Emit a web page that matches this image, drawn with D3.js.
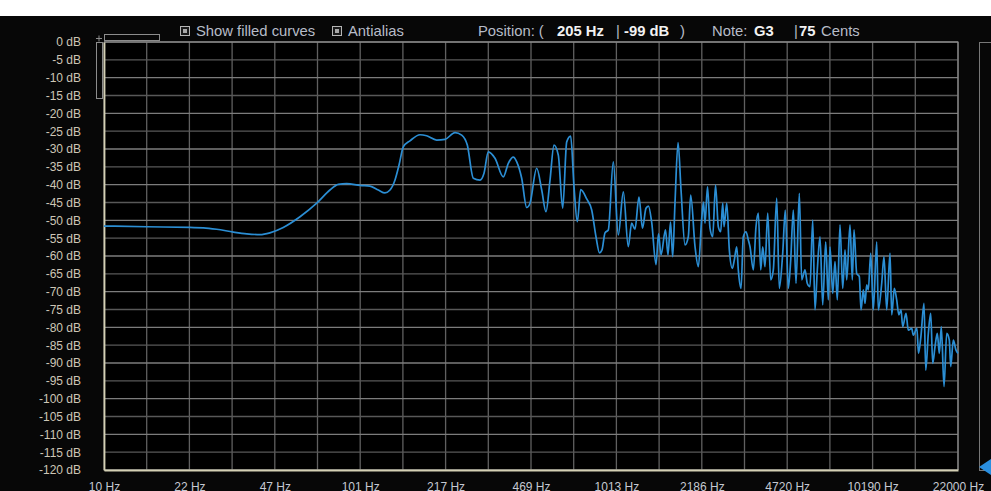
<!DOCTYPE html>
<html>
<head>
<meta charset="utf-8">
<script src="https://cdn.jsdelivr.net/npm/d3@7"></script>
<style>
  html, body { margin: 0; padding: 0; background: #ffffff; }
  svg { display: block; }
  text { font-family: "Liberation Sans", Arial, Helvetica, sans-serif; }
</style>
</head>
<body>
<svg id="chart" width="991" height="491"></svg>
<script>
// Spectrum: frequency (Hz) and level (dB)
const freqHz = [
  10, 14.7, 21.7, 24.5, 27.6, 32.1, 36.2, 40.8, 44.6, 50.3,
  58.5, 68.0, 76.6, 82.6, 89.1, 100.5, 109.9, 118.5, 125.8, 131.6,
  137.7, 142.8, 148.4, 157.6, 172.5, 183.2, 200.5, 216.1, 236.5, 251.2,
  264.2, 278.9, 296.2, 307.1, 319.2, 339.1, 365.5, 382.3, 399.9, 412.4,
  431.3, 451.2, 464.9, 493.8, 516.6, 536.9, 556.7, 577.1, 599.9, 624.2,
  647.1, 670.8, 691.1, 712.0, 734.1, 774.9, 810.6, 842.6, 869.6, 889.4,
  913.8, 941.4, 984.8, 1030, 1078, 1127, 1162, 1197, 1241, 1281,
  1322, 1352, 1392, 1447, 1480, 1514, 1576, 1612, 1649, 1682,
  1717, 1765, 1813, 1879, 1936, 1978, 2057, 2119, 2185, 2220,
  2250, 2302, 2354, 2412, 2474, 2537, 2592, 2640, 2671, 2737,
  2802, 2878, 2931, 2995, 3038, 3113, 3178, 3256, 3325, 3376,
  3478, 3563, 3638, 3718, 3785, 3864, 3960, 4068, 4165, 4294,
  4396, 4533, 4640, 4767, 4872, 4988, 5110, 5265, 5379, 5542,
  5658, 5797, 5940, 6064, 6191, 6344, 6500, 6678, 6836, 6942,
  7113, 7262, 7414, 7597, 7784, 7947, 8070, 8313, 8487, 8619,
  8831, 9040, 9180, 9372, 9516, 9663, 9804, 10018, 10256, 10575,
  10728, 11061, 11293, 11571, 11922, 12106, 12393, 12663, 12908, 13163,
  13367, 13770, 14058, 14497, 14707, 15189, 15411, 15748, 16196, 16448,
  16838, 17206, 17518, 17884, 18258, 18590, 18928, 19394, 19873, 20344,
  20601, 21090, 21609, 22000
];
const levelDb = [
  -51.6, -51.8, -52.0, -52.1, -52.5, -53.3, -53.8, -54.0, -53.5, -52.0,
  -49.0, -45.2, -41.5, -39.9, -39.7, -40.2, -40.4, -41.5, -42.3, -41.5,
  -38.7, -34.5, -29.4, -27.7, -26.0, -26.3, -27.5, -27.3, -25.4, -26.1,
  -28.9, -38.2, -38.7, -36.8, -30.8, -32.6, -37.8, -34.0, -32.3, -33.6,
  -38.2, -46.4, -45.2, -35.4, -41.5, -47.6, -38.7, -28.9, -31.7, -46.6,
  -28.0, -26.4, -40.6, -50.4, -41.4, -44.0, -47.1, -54.6, -59.1, -58.3,
  -53.5, -52.7, -33.6, -54.1, -42.0, -57.4, -50.8, -52.5, -43.5, -52.2,
  -46.6, -46.0, -50.6, -62.4, -53.8, -59.7, -52.7, -59.7, -50.5, -60.2,
  -45.1, -28.2, -41.5, -56.9, -54.6, -42.9, -57.4, -63.0, -49.4, -44.9,
  -50.8, -40.6, -52.2, -54.6, -40.1, -51.8, -53.2, -45.2, -51.8, -45.2,
  -58.3, -63.5, -61.1, -57.4, -63.9, -69.1, -54.6, -53.2, -55.5, -57.4,
  -63.9, -51.8, -48.0, -63.9, -57.4, -63.0, -48.0, -66.7, -63.9, -43.8,
  -69.1, -59.2, -47.1, -69.1, -61.1, -47.1, -67.7, -42.4, -66.7, -63.9,
  -67.7, -68.6, -49.9, -75.1, -63.9, -54.6, -73.7, -56.0, -72.3, -57.4,
  -70.5, -61.6, -72.3, -51.3, -69.1, -58.3, -66.7, -51.3, -66.7, -52.7,
  -64.9, -65.8, -75.1, -69.5, -73.3, -68.1, -69.5, -59.2, -75.1, -56.0,
  -75.1, -67.7, -60.2, -75.1, -59.2, -76.5, -69.1, -72.3, -76.5, -75.1,
  -79.8, -76.1, -80.8, -80.3, -82.2, -80.3, -87.3, -82.6, -73.3, -92.0,
  -81.7, -76.1, -90.1, -85.4, -81.7, -87.3, -79.8, -96.6, -81.7, -83.6,
  -91.0, -83.6, -86.4, -87.3
];

// Axis ticks
const dbTicks = [0, -5, -10, -15, -20, -25, -30, -35, -40, -45, -50, -55, -60,
                 -65, -70, -75, -80, -85, -90, -95, -100, -105, -110, -115, -120];
const freqTickLabels = [10, 22, 47, 101, 217, 469, 1013, 2186, 4720, 10190, 22000];

// Header readout
const headerChecks = ["Show filled curves", "Antialias"];
const cursorHz = 205, cursorDb = -99, cursorNote = "G3", cursorCents = 75;

const W = 991, H = 491;
const plot = { left: 104, right: 958, top: 42, bottom: 470 };

const svg = d3.select("#chart");

// Dark panel
svg.append("rect").attr("x", 0).attr("y", 16).attr("width", W).attr("height", H - 16).attr("fill", "#070707");
svg.append("rect").attr("x", plot.left).attr("y", plot.top)
  .attr("width", plot.right - plot.left).attr("height", plot.bottom - plot.top).attr("fill", "#000");

const x = d3.scaleLog().domain([10, 22000]).range([plot.left, plot.right]);
const y = d3.scaleLinear().domain([-120, 0]).range([plot.bottom, plot.top]);

// 20 equal log divisions, every second one labelled
const divisions = 20;
const gridFreqs = d3.range(divisions + 1).map(k => 10 * Math.pow(2200, k / divisions));

// Vertical grid
svg.append("g").selectAll("line").data(gridFreqs).join("line")
  .attr("x1", d => x(d)).attr("x2", d => x(d))
  .attr("y1", plot.top).attr("y2", plot.bottom)
  .attr("stroke", "#606060").attr("stroke-width", 1.3);

// Horizontal grid
svg.append("g").selectAll("line").data(dbTicks).join("line")
  .attr("x1", plot.left).attr("x2", plot.right)
  .attr("y1", d => y(d)).attr("y2", d => y(d))
  .attr("stroke", d => d % 10 === 0 ? "#7c7c7c" : "#585858").attr("stroke-width", 1.3);

// Outer frame: top and right
svg.append("path")
  .attr("d", `M${plot.left},${plot.top}H${plot.right}V${plot.bottom}`)
  .attr("fill", "none").attr("stroke", "#8a8a8a").attr("stroke-width", 1.2);

// Y axis
const yAxis = d3.axisLeft(y).tickValues(dbTicks).tickSize(0).tickPadding(23)
  .tickFormat(d => d + " dB");
const gy = svg.append("g").attr("transform", `translate(${plot.left},0)`).call(yAxis);
gy.select(".domain").attr("stroke", "#d4d0b4").attr("stroke-width", 1.8);
gy.selectAll("text").attr("fill", "#cdc6b6").attr("font-size", 12)
  .attr("font-family", "'Liberation Sans', Arial, sans-serif");

// X axis
const labelledFreqs = gridFreqs.filter((d, i) => i % 2 === 0);
const xAxis = d3.axisBottom(x).tickValues(labelledFreqs).tickSize(0).tickPadding(12)
  .tickFormat((d, i) => freqTickLabels[i] + " Hz");
const gx = svg.append("g").attr("transform", `translate(0,${plot.bottom})`).call(xAxis);
gx.select(".domain").attr("stroke", "#d4d0b4").attr("stroke-width", 1.8);
gx.selectAll("text").attr("fill", "#c6c9d2").attr("font-size", 12)
  .attr("font-family", "'Liberation Sans', Arial, sans-serif");

// Spectrum curve
const points = freqHz.map((f, i) => ({ f, db: levelDb[i] }));
const line = d3.line().x(d => x(d.f)).y(d => y(d.db)).curve(d3.curveMonotoneX);
svg.append("path").datum(points)
  .attr("d", line)
  .attr("fill", "none")
  .attr("stroke", "#2b8ed4")
  .attr("stroke-width", 1.7)
  .attr("stroke-linejoin", "round");

// Zoom handles at the top-left corner
const handles = svg.append("g").attr("fill", "none").attr("stroke", "#8c8c8c").attr("stroke-width", 1);
handles.append("rect").attr("x", 104.5).attr("y", 34.5).attr("width", 55).attr("height", 6);
handles.append("rect").attr("x", 96.5).attr("y", 42.5).attr("width", 6).attr("height", 56);
handles.append("path").attr("d", "M96,38.5H102M99,35.5V41.5");

// Right-hand level slider
svg.append("rect").attr("x", 979.5).attr("y", 42.5).attr("width", 20).attr("height", 428)
  .attr("fill", "none").attr("stroke", "#777").attr("stroke-width", 1);
svg.append("path").attr("d", "M979,467 L991,459 L991,475 Z").attr("fill", "#2a8fe0");

// Header controls
const header = svg.append("g").attr("font-size", 14.8);
const checkX = [180, 332];
headerChecks.forEach((label, i) => {
  header.append("rect").attr("x", checkX[i] + 0.5).attr("y", 26.5).attr("width", 9).attr("height", 9)
    .attr("fill", "#1a1a1a").attr("stroke", "#b5b5b5").attr("stroke-width", 1);
  header.append("rect").attr("x", checkX[i] + 3).attr("y", 29).attr("width", 4).attr("height", 4)
    .attr("fill", "#a8a8a8");
  header.append("text").attr("x", checkX[i] + 16).attr("y", 36).attr("fill", "#b7bcc8").text(label);
});

const readout = [
  { x: 478, t: "Position: (", bold: false },
  { x: 557, t: cursorHz + " Hz", bold: true },
  { x: 616, t: "|", bold: false },
  { x: 624, t: cursorDb + " dB", bold: true },
  { x: 680, t: ")", bold: false },
  { x: 712, t: "Note:", bold: false },
  { x: 754, t: cursorNote, bold: true },
  { x: 794, t: "|", bold: false },
  { x: 799, t: String(cursorCents), bold: true },
  { x: 821, t: "Cents", bold: false }
];
header.selectAll("text.readout").data(readout).join("text")
  .attr("class", "readout")
  .attr("x", d => d.x).attr("y", 36)
  .attr("fill", d => d.bold ? "#f2f2f2" : "#b7bcc8")
  .attr("font-weight", d => d.bold ? "bold" : "normal")
  .text(d => d.t);
</script>
</body>
</html>
